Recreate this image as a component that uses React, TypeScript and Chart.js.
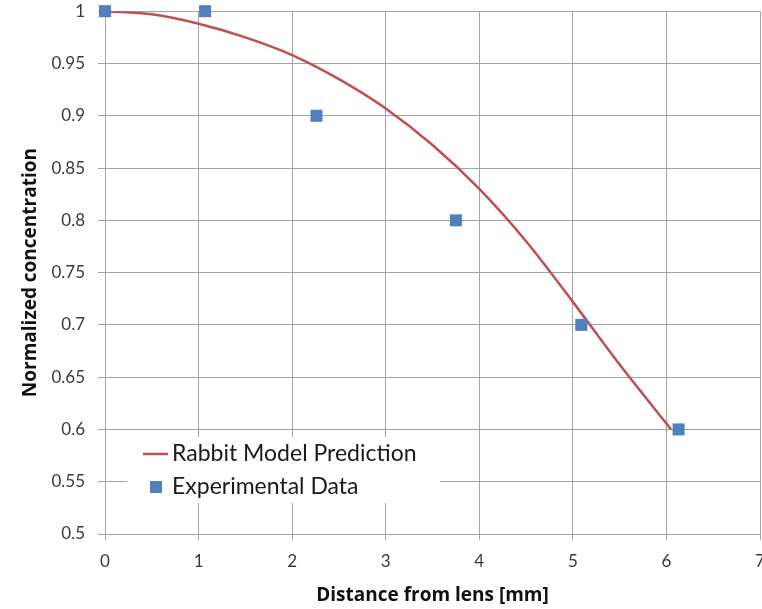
import React, { useEffect, useRef } from "react";
import { Chart, registerables } from "chart.js";

Chart.register(...registerables);

// Model prediction curve
const curveX = [0, 0.5, 1, 1.5, 2, 2.5, 3, 3.5, 4, 4.5, 5, 5.5, 6.05];
const curveY = [1, 0.997, 0.988, 0.975, 0.958, 0.935, 0.907, 0.872, 0.83, 0.78, 0.722, 0.662, 0.6];

// Experimental data
const expX = [0, 1.07, 2.26, 3.75, 5.09, 6.13];
const expY = [1, 1, 0.9, 0.8, 0.7, 0.6];

const seriesNames = ["Rabbit Model Prediction", "Experimental Data"];
const xTitle = "Distance from lens [mm]";
const yTitle = "Normalized concentration";

const xMin = 0, xMax = 7, xStep = 1;
const yMin = 0.5, yMax = 1, yStep = 0.05;

const FONT = "Lato, 'Open Sans', sans-serif";
const TITLE_FONT = "'Open Sans', Lato, sans-serif";
const LINE_COLOR = "#C0504D";
const MARK_COLOR = "#4F81BD";
const GRID = "#a3a3a3";

const legendPlugin = {
  id: "insideLegend",
  afterDraw(chart: any) {
    const { ctx, chartArea } = chart;
    const bx = chartArea.left + 22;
    const by = chartArea.bottom - 97;
    const bw = 313;
    const bh = 66;
    ctx.save();
    ctx.fillStyle = "#ffffff";
    ctx.fillRect(bx, by, bw, bh);
    ctx.font = `23px ${FONT}`;
    ctx.textBaseline = "middle";
    ctx.fillStyle = "#1a1a1a";
    const ds = chart.data.datasets;
    // item 1: line
    const y1 = by + 17;
    ctx.strokeStyle = ds[0].borderColor;
    ctx.lineWidth = 2.5;
    ctx.beginPath();
    ctx.moveTo(bx + 16, y1);
    ctx.lineTo(bx + 41, y1);
    ctx.stroke();
    ctx.fillText(ds[0].label, bx + 45, y1);
    // item 2: square marker
    const y2 = by + 50;
    ctx.fillStyle = ds[1].backgroundColor;
    ctx.fillRect(bx + 23, y2 - 6, 12, 12);
    ctx.fillStyle = "#1a1a1a";
    ctx.fillText(ds[1].label, bx + 45, y2);
    ctx.restore();
  },
};

export default function App() {
  const ref = useRef<HTMLCanvasElement | null>(null);

  useEffect(() => {
    if (!ref.current) return;
    const chart = new Chart(ref.current, {
      type: "scatter",
      data: {
        datasets: [
          {
            label: seriesNames[0],
            data: curveX.map((x, i) => ({ x, y: curveY[i] })),
            showLine: true,
            borderColor: LINE_COLOR,
            backgroundColor: LINE_COLOR,
            borderWidth: 2.5,
            pointRadius: 0,
            cubicInterpolationMode: "monotone",
            order: 2,
          } as any,
          {
            label: seriesNames[1],
            data: expX.map((x, i) => ({ x, y: expY[i] })),
            showLine: false,
            pointStyle: "rect",
            pointRadius: 8.5,
            backgroundColor: MARK_COLOR,
            borderColor: MARK_COLOR,
            borderWidth: 0,
            clip: false,
            order: 1,
          } as any,
        ],
      },
      options: {
        responsive: false,
        animation: false,
        layout: { padding: { left: 15, right: 20, top: 0, bottom: 2 } },
        plugins: {
          legend: { display: false },
          tooltip: { enabled: false },
        },
        scales: {
          x: {
            type: "linear",
            min: xMin,
            max: xMax,
            afterFit: (s: any) => {
              s.height = 73;
            },
            ticks: {
              stepSize: xStep,
              padding: 11,
              color: "#3a3a3a",
              font: { family: FONT, size: 17 },
            },
            grid: { color: GRID, tickLength: 6, tickColor: GRID },
            border: { color: GRID },
            title: {
              display: true,
              text: xTitle,
              color: "#111",
              font: { family: TITLE_FONT, size: 19, weight: "bold" },
              padding: { top: 0, bottom: 0 },
            },
          },
          y: {
            type: "linear",
            min: yMin,
            max: yMax,
            afterFit: (s: any) => {
              s.width = 90;
            },
            ticks: {
              stepSize: yStep,
              padding: 13,
              color: "#3a3a3a",
              font: { family: FONT, size: 17 },
              callback: (v: any) => String(Number(Number(v).toFixed(2))),
            },
            grid: { color: GRID, tickLength: 7, tickColor: GRID },
            border: { color: GRID },
            title: {
              display: true,
              text: yTitle,
              color: "#111",
              font: { family: TITLE_FONT, size: 19, weight: "bold" },
              padding: { top: 4, bottom: 0 },
            },
          },
        },
      },
      plugins: [legendPlugin],
    });
    return () => chart.destroy();
  }, []);

  return (
    <div
      style={{
        position: "fixed",
        left: 0,
        top: 0,
        width: 762,
        height: 609,
        overflow: "hidden",
        background: "#fff",
      }}
    >
      <canvas
        ref={ref}
        width={780}
        height={621}
        style={{ display: "block", position: "absolute", left: 0, top: -12 }}
      />
    </div>
  );
}
